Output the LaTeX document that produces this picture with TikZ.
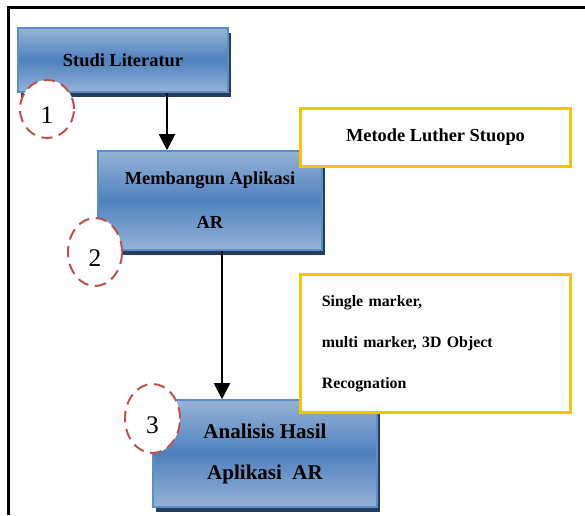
\documentclass[tikz,border=0pt]{standalone}
\usepackage{fontspec}
\setmainfont{Liberation Serif}
\usetikzlibrary{arrows.meta, shapes.geometric, shadows}
\definecolor{boxlight}{HTML}{95B3D7}
\definecolor{boxmid}{HTML}{4F81BD}
\definecolor{boxedge}{HTML}{5B8DCB}
\definecolor{boxshade}{HTML}{243F60}
\definecolor{noteyellow}{HTML}{FFC000}
\definecolor{stepred}{HTML}{C0504D}
\tikzset{
  >={Triangle[length=12pt, width=12pt]},
  every picture/.style={line join=miter},
  % blue stage box with a dark drop shadow
  stagebox/.style={draw=boxedge, line width=1.2pt, top color=boxlight, bottom color=boxlight, middle color=boxmid,
    drop shadow={shadow xshift=2.25pt, shadow yshift=-3.4pt, fill=boxshade, opacity=1},
    font=\bfseries\fontsize{13.8}{33}\selectfont, align=center, inner sep=0pt},
  % yellow note box
  notebox/.style={draw=noteyellow, line width=2.25pt, fill=white, minimum width=202.5pt, inner sep=0pt},
  % dashed step number (digit sits a bit below the middle)
  stepnum/.style={ellipse, draw=stepred, fill=white, line width=1.5pt, dash pattern=on 8.5pt off 5pt,
    inner sep=0pt, minimum width=40.5pt, font=\fontsize{19}{19}\selectfont, text height=22pt, text depth=0pt},
  flow/.style={->, line width=1.5pt},
  frame/.style={line width=2.25pt},
}
\begin{document}
\begin{tikzpicture}[x=0.75pt, y=-0.75pt]
  \useasboundingbox (0,0) rectangle (585,515);
  % ---- page frame
  \draw[frame] (8,515) -- (8,7) -- (585,7);
  % ---- stages
  \node[stagebox, minimum width=157.5pt, minimum height=48pt] (studi) at (123,60) {Studi Literatur};
  \node[stagebox, minimum width=168pt, minimum height=74.25pt] (bangun) at (210,200.5) {Membangun Aplikasi\\AR};
  \node[stagebox, minimum width=168pt, minimum height=80.25pt, font=\bfseries\fontsize{15.75}{30.75}\selectfont]
    (analisis) at (265,453.5) {Analisis Hasil\\Aplikasi\ \ AR};
  % ---- flow
  \coordinate (ax1) at (167,0);
  \coordinate (ax2) at (222,0);
  \draw[flow] (studi.south -| ax1) -- (bangun.north -| ax1);
  \draw[flow] (bangun.south -| ax2) -- (analisis.north -| ax2);
  % ---- notes
  \node[notebox, minimum height=43.5pt, font=\bfseries\fontsize{13.8}{16}\selectfont] (luther) at (435.5,137.5) {Metode Luther Stuopo};
  \node[notebox, minimum height=103.5pt, inner xsep=16pt, text width=170.5pt, align=left,
    font=\bfseries\fontsize{11.9}{30.75}\selectfont] (marker) at (435.5,343.5)
    {Single marker,\\multi marker, 3D Object\\Recognation};
  % ---- step numbers
  \node[stepnum, minimum height=43.5pt] (no1) at (47,109) {1};
  \node[stepnum, minimum height=51pt] (no2) at (95,252) {2};
  \node[stepnum, minimum width=41.25pt, minimum height=51.75pt] (no3) at (152.5,418.5) {3};
\end{tikzpicture}
\end{document}
